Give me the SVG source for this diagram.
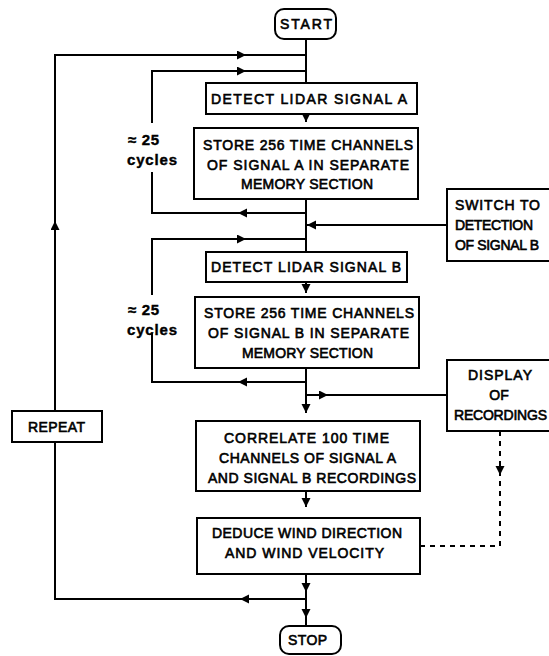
<svg xmlns="http://www.w3.org/2000/svg" width="549" height="656" viewBox="0 0 549 656">
<style>
.b{fill:#fff;stroke:#000;stroke-width:2}
.c{fill:none;stroke:#000;stroke-width:2}
.d{fill:none;stroke:#000;stroke-width:2;stroke-dasharray:5 5}
text{font-family:"Liberation Sans",Arial,sans-serif;font-size:14px;fill:#000;stroke:#000;stroke-width:0.6}
.m{text-anchor:middle}
.k{font-weight:bold;font-size:15px;stroke-width:0.4}
</style>
<defs>
<marker id="ah" markerUnits="userSpaceOnUse" markerWidth="10" markerHeight="10" refX="9" refY="4.5" orient="auto">
<path d="M0,0 L9,4.5 L0,9 z" fill="#000"/>
</marker>
</defs>
<rect width="549" height="656" fill="#fff"/>
<g id="connectors">
<path class="c" d="M306,39 V83"/>
<path class="c" d="M306,114 V122" marker-end="url(#ah)"/>
<path class="c" d="M306,199 V252"/>
<path class="c" d="M306,282 V293" marker-end="url(#ah)"/>
<path class="c" d="M306,368 V413" marker-end="url(#ah)"/>
<path class="c" d="M306,491 V507" marker-end="url(#ah)"/>
<path class="c" d="M306,574 V592" marker-end="url(#ah)"/>
<path class="c" d="M306,592 V618" marker-end="url(#ah)"/>
<path class="c" d="M306,618 V626"/>
<path class="c" d="M306,599 H240" marker-end="url(#ah)"/>
<path class="c" d="M240,599 H55 V442"/>
<path class="c" d="M55,411 V221" marker-end="url(#ah)"/>
<path class="c" d="M55,221 V55 H246" marker-end="url(#ah)"/>
<path class="c" d="M246,55 H306"/>
<path class="c" d="M306,213 H238" marker-end="url(#ah)"/>
<path class="c" d="M238,213 H152 V172"/>
<path class="c" d="M152,123 V71 H246" marker-end="url(#ah)"/>
<path class="c" d="M246,71 H306"/>
<path class="c" d="M447,225 H307" marker-end="url(#ah)"/>
<path class="c" d="M306,382 H238" marker-end="url(#ah)"/>
<path class="c" d="M238,382 H152 V333"/>
<path class="c" d="M152,295 V239 H246" marker-end="url(#ah)"/>
<path class="c" d="M246,239 H306"/>
<path class="c" d="M306,395 H328" marker-end="url(#ah)"/>
<path class="c" d="M328,395 H447"/>
<path class="d" d="M420,546 H500 V431"/>
<path d="M495.5,466 L504.5,466 L500,475 z" fill="#000"/>
</g>
<g id="start">
<rect class="b" x="275" y="9" width="61" height="30" rx="9"/>
<text class="m" x="306" y="29" textLength="52">START</text>
</g>
<g id="detectA">
<rect class="b" x="206" y="83" width="211" height="31"/>
<text class="m" x="309" y="104" textLength="196">DETECT LIDAR SIGNAL A</text>
</g>
<g id="storeA">
<rect class="b" x="194" y="128" width="224" height="71"/>
<text class="m" x="308" y="150" textLength="210">STORE 256 TIME CHANNELS</text>
<text class="m" x="308" y="170" textLength="202">OF SIGNAL A IN SEPARATE</text>
<text class="m" x="307" y="189" textLength="132">MEMORY SECTION</text>
</g>
<g id="cyclesA">
<text class="k" x="128" y="145" textLength="31">≈ 25</text>
<text class="k" x="127" y="165" textLength="50">cycles</text>
</g>
<g id="switch">
<rect class="b" x="447" y="189" width="120" height="72"/>
<text x="455" y="210" textLength="85">SWITCH TO</text>
<text x="455" y="230" textLength="78">DETECTION</text>
<text x="455" y="250" textLength="84">OF SIGNAL B</text>
</g>
<g id="detectB">
<rect class="b" x="206" y="252" width="201" height="30"/>
<text class="m" x="306" y="272" textLength="190">DETECT LIDAR SIGNAL B</text>
</g>
<g id="storeB">
<rect class="b" x="195" y="297" width="224" height="71"/>
<text class="m" x="309" y="318" textLength="210">STORE 256 TIME CHANNELS</text>
<text class="m" x="308.5" y="338" textLength="201">OF SIGNAL B IN SEPARATE</text>
<text class="m" x="307.5" y="358" textLength="131">MEMORY SECTION</text>
</g>
<g id="cyclesB">
<text class="k" x="128" y="315" textLength="31">≈ 25</text>
<text class="k" x="127" y="335" textLength="50">cycles</text>
</g>
<g id="display">
<rect class="b" x="447" y="360" width="120" height="71"/>
<text class="m" x="500" y="380" textLength="64">DISPLAY</text>
<text class="m" x="499" y="400">OF</text>
<text class="m" x="500.5" y="420" textLength="93">RECORDINGS</text>
</g>
<g id="repeat">
<rect class="b" x="12" y="411" width="90" height="31"/>
<text class="m" x="56.5" y="432" textLength="57">REPEAT</text>
</g>
<g id="correlate">
<rect class="b" x="196" y="421" width="224" height="70"/>
<text class="m" x="306.5" y="443" textLength="165">CORRELATE 100 TIME</text>
<text class="m" x="307.5" y="463" textLength="177">CHANNELS OF SIGNAL A</text>
<text class="m" x="312" y="483" textLength="208">AND SIGNAL B RECORDINGS</text>
</g>
<g id="deduce">
<rect class="b" x="197" y="518" width="223" height="56"/>
<text class="m" x="307" y="538" textLength="190">DEDUCE WIND DIRECTION</text>
<text class="m" x="304.5" y="558" textLength="159">AND WIND VELOCITY</text>
</g>
<g id="stop">
<rect class="b" x="280" y="626" width="61" height="28" rx="9"/>
<text class="m" x="307.5" y="645" textLength="39">STOP</text>
</g>
</svg>
